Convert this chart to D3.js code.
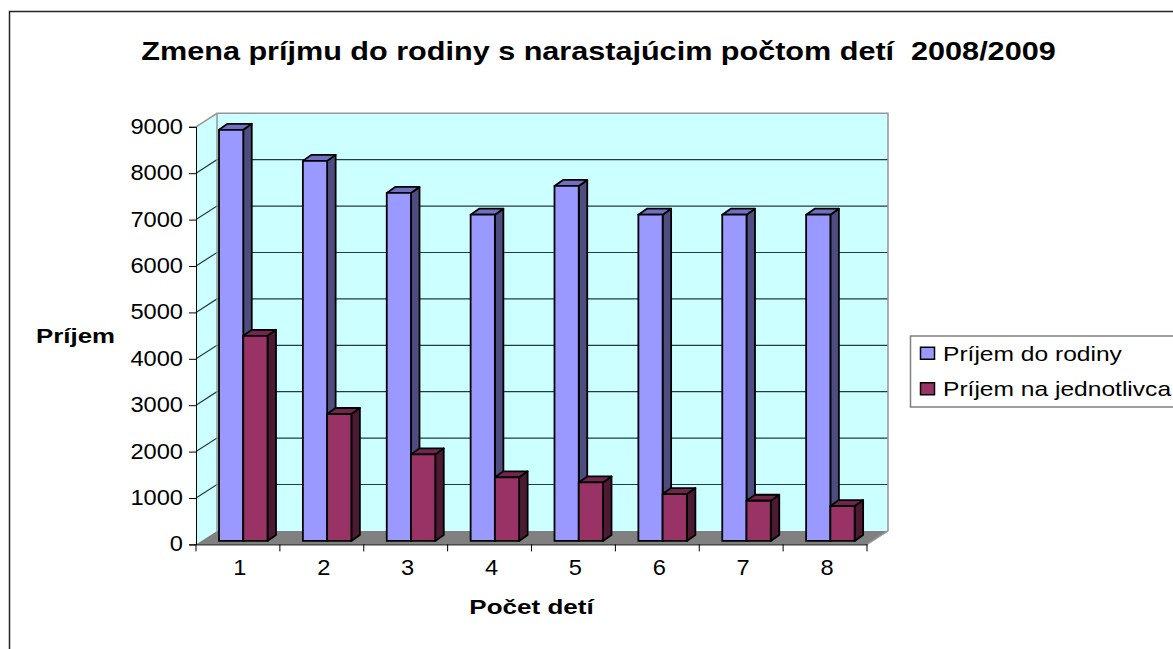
<!DOCTYPE html>
<html>
<head>
<meta charset="utf-8">
<script src="https://cdn.jsdelivr.net/npm/d3@7"></script>
<style>
html, body { margin: 0; padding: 0; background: #fff; overflow: hidden; }
text { font-family: "Liberation Sans", Arial, sans-serif; fill: #000; }
</style>
</head>
<body>
<script>
var categories = ["1", "2", "3", "4", "5", "6", "7", "8"];
var seriesNames = ["Príjem do rodiny", "Príjem na jednotlivca"];
var familyIncome = [8860, 8190, 7500, 7030, 7650, 7030, 7030, 7030];
var personIncome = [4420, 2735, 1865, 1370, 1260, 1010, 865, 750];
var yTicks = [0, 1000, 2000, 3000, 4000, 5000, 6000, 7000, 8000, 9000];

var fills = ["#9999ff", "#993366"];
var topFills = ["#7070c0", "#73264d"];
var sideFills = ["#4d4d80", "#4d1a33"];

var width = 1173;
var height = 649;
var wallDx = 21;
var wallDy = -13.5;
var barDx = 8.5;
var barDy = -6;
var barLift = 3.5;

var svg = d3.select("body")
    .append("svg")
    .attr("width", width)
    .attr("height", height);

var x = d3.scaleBand().domain(categories).range([196, 867]);
var xSeries = d3.scaleBand().domain(seriesNames).range([23, 71.5]);
var y = d3.scaleLinear().domain([0, 9000]).range([544.4, 126.8]);

function poly(points) {
    return points.map(function (p) { return p.join(","); }).join(" ");
}

// the reference text is wider than the font, so stretch the glyphs
function stretch(sel, factor) {
    sel.each(function () {
        d3.select(this)
            .attr("textLength", this.getComputedTextLength() * factor)
            .attr("lengthAdjust", "spacingAndGlyphs");
    });
}

// outer frame, only top and left are inside the picture
svg.append("path")
    .attr("d", "M9.5," + height + "V11.5H" + width)
    .attr("fill", "none")
    .attr("stroke", "#222")
    .attr("stroke-width", 1.5);

var x0 = x.range()[0];
var x1 = x.range()[1];
var yBase = y(0);
var yTop = y(9000);

// walls and floor
svg.append("polygon")
    .attr("points", poly([[x0, yTop], [x0 + wallDx, yTop + wallDy], [x0 + wallDx, yBase + wallDy], [x0, yBase]]))
    .attr("fill", "#ccffff");
svg.append("rect")
    .attr("x", x0 + wallDx)
    .attr("y", yTop + wallDy)
    .attr("width", x1 - x0)
    .attr("height", yBase - yTop)
    .attr("fill", "#ccffff");
svg.append("polygon")
    .attr("points", poly([[x0, yBase], [x0 + wallDx, yBase + wallDy], [x1 + wallDx, yBase + wallDy], [x1, yBase]]))
    .attr("fill", "#808080");

// gridlines run along the side wall and the back wall
svg.selectAll("path.grid")
    .data(yTicks.slice(1, -1))
    .enter()
    .append("path")
    .attr("class", "grid")
    .attr("d", function (d) {
        return "M" + x0 + "," + y(d) + "L" + (x0 + wallDx) + "," + (y(d) + wallDy) + "H" + (x1 + wallDx);
    })
    .attr("fill", "none")
    .attr("stroke", "#223c3c")
    .attr("stroke-width", 1.2);

// gray edge of the walls
svg.append("path")
    .attr("d", "M" + x0 + "," + yTop + "L" + (x0 + wallDx) + "," + (yTop + wallDy) + "H" + (x1 + wallDx) + "V" + (yBase + wallDy) + "L" + x1 + "," + yBase)
    .attr("fill", "none")
    .attr("stroke", "#969696")
    .attr("stroke-width", 1.5);
svg.append("path")
    .attr("d", "M" + (x0 + wallDx) + "," + (yTop + wallDy) + "V" + (yBase + wallDy))
    .attr("fill", "none")
    .attr("stroke", "#969696")
    .attr("stroke-width", 1.5);

// bars
var rows = categories.map(function (c, i) {
    return [
        { cat: c, name: seriesNames[0], value: familyIncome[i], s: 0 },
        { cat: c, name: seriesNames[1], value: personIncome[i], s: 1 }
    ];
});
var bars = svg.selectAll("g.bar")
    .data(d3.merge(rows))
    .enter()
    .append("g")
    .attr("class", "bar")
    .attr("stroke", "#000")
    .attr("stroke-width", 1.8)
    .attr("stroke-linejoin", "round");

function barLeft(d) { return x(d.cat) + xSeries(d.name); }
function barRight(d) { return barLeft(d) + xSeries.bandwidth(); }
function barTop(d) { return y(d.value) - barLift; }
function barBottom() { return y(0) - barLift; }

bars.append("polygon")
    .attr("points", function (d) {
        return poly([[barRight(d), barTop(d)], [barRight(d) + barDx, barTop(d) + barDy],
            [barRight(d) + barDx, barBottom() + barDy], [barRight(d), barBottom()]]);
    })
    .attr("fill", function (d) { return sideFills[d.s]; });
bars.append("polygon")
    .attr("points", function (d) {
        return poly([[barLeft(d), barTop(d)], [barLeft(d) + barDx, barTop(d) + barDy],
            [barRight(d) + barDx, barTop(d) + barDy], [barRight(d), barTop(d)]]);
    })
    .attr("fill", function (d) { return topFills[d.s]; });
bars.append("rect")
    .attr("x", barLeft)
    .attr("y", barTop)
    .attr("width", xSeries.bandwidth())
    .attr("height", function (d) { return barBottom() - barTop(d); })
    .attr("fill", function (d) { return fills[d.s]; });

// axes
var yAxis = svg.append("g")
    .attr("transform", "translate(" + x0 + ",0)")
    .call(d3.axisLeft(y).tickValues(yTicks).tickSize(7).tickPadding(6).tickFormat(d3.format("d")));
yAxis.selectAll("text")
    .attr("font-size", 21.5)
    .attr("dy", "0.3em")
    .call(stretch, 1.1);

var xAxis = svg.append("g")
    .attr("transform", "translate(0," + yBase + ")")
    .call(d3.axisBottom(x).tickSize(0).tickPadding(15));
xAxis.selectAll("text")
    .attr("font-size", 21.5)
    .attr("dx", 2)
    .call(stretch, 1.1);

svg.append("g")
    .attr("transform", "translate(0," + yBase + ")")
    .selectAll("line")
    .data(categories.concat(["end"]))
    .enter()
    .append("line")
    .attr("x1", function (d, i) { return x0 + i * x.step(); })
    .attr("x2", function (d, i) { return x0 + i * x.step(); })
    .attr("y1", 0)
    .attr("y2", 7)
    .attr("stroke", "#000");

// titles
svg.append("text")
    .attr("x", 598.5)
    .attr("y", 60)
    .attr("text-anchor", "middle")
    .attr("font-size", 26.5)
    .attr("font-weight", "bold")
    .style("white-space", "pre")
    .text("Zmena príjmu do rodiny s narastajúcim počtom detí  2008/2009")
    .call(stretch, 1.154);
svg.append("text")
    .attr("x", 75.5)
    .attr("y", 343)
    .attr("text-anchor", "middle")
    .attr("font-size", 20.5)
    .attr("font-weight", "bold")
    .text("Príjem")
    .call(stretch, 1.26);
svg.append("text")
    .attr("x", 531.5)
    .attr("y", 614)
    .attr("text-anchor", "middle")
    .attr("font-size", 20.5)
    .attr("font-weight", "bold")
    .text("Počet detí")
    .call(stretch, 1.27);

// legend runs off the right edge
svg.append("path")
    .attr("d", "M" + width + ",336H910.5V407H" + width)
    .attr("fill", "none")
    .attr("stroke", "#808080")
    .attr("stroke-width", 1.5);
var legendRow = d3.scaleBand().domain(seriesNames).range([336, 407]);
var legend = svg.selectAll("g.legend")
    .data(seriesNames)
    .enter()
    .append("g")
    .attr("class", "legend")
    .attr("transform", function (d) { return "translate(920," + (legendRow(d) + legendRow.bandwidth() / 2) + ")"; });
legend.append("rect")
    .attr("x", 0.5)
    .attr("y", -6.5)
    .attr("width", 14)
    .attr("height", 12)
    .attr("fill", function (d, i) { return fills[i]; })
    .attr("stroke", "#000")
    .attr("stroke-width", 1.5);
legend.append("text")
    .attr("x", 23)
    .attr("y", 7)
    .attr("font-size", 21)
    .text(function (d) { return d; })
    .call(stretch, 1.17);
</script>
</body>
</html>
